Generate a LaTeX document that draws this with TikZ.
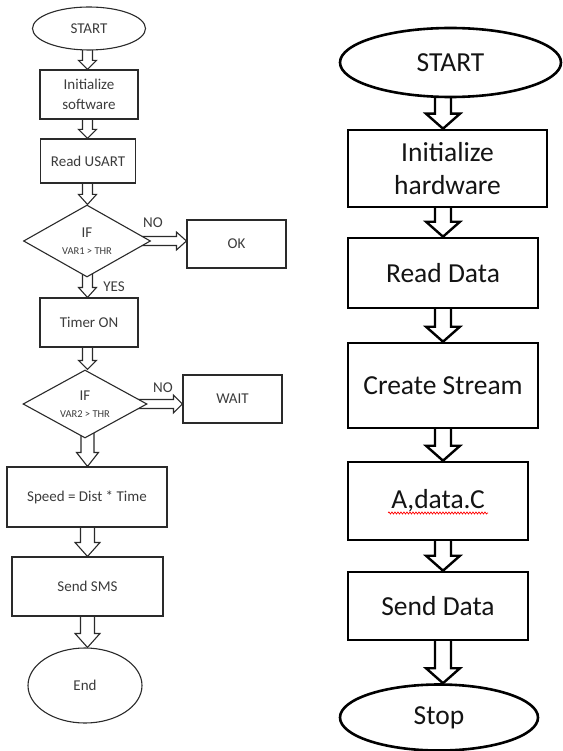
\documentclass[tikz,border=0pt]{standalone}
\usepackage{fontspec}
\setmainfont{Carlito}
\usetikzlibrary{shapes.geometric,calc,backgrounds,decorations.pathmorphing}
\definecolor{lline}{HTML}{2A2A2A}
\definecolor{ltext}{HTML}{3C3C3C}
\definecolor{rtext}{HTML}{141414}
\newcommand\lfont{\fontsize{15}{20}\selectfont}
\newcommand\lsmall{\fontsize{10.5}{12}\selectfont}
\newcommand\rfont{\fontsize{27.5}{33}\selectfont}
% vertical hollow block arrow: style, source, target, column, shaft half, head half, head length
\newcommand\varrow[7]{%
  \begin{pgfonlayer}{background}
  \path[#1] let \p1=(#2.south -| #4), \p2=(#3.north -| #4) in
    (\x1-#5pt,\y1+10pt) -- (\x1-#5pt,\y2+#7pt) -- (\x1-#6pt,\y2+#7pt) -- (\x1,\y2)
    -- (\x1+#6pt,\y2+#7pt) -- (\x1+#5pt,\y2+#7pt) -- (\x1+#5pt,\y1+10pt);
  \end{pgfonlayer}}
% horizontal hollow block arrow: style, source, target, shaft half, head half, head length
\newcommand\harrow[6]{%
  \begin{pgfonlayer}{background}
  \path[#1] let \p1=(#2.east), \p2=(#3.west) in
    (\x1-10pt,\y1+#4pt) -- (\x2-#6pt,\y1+#4pt) -- (\x2-#6pt,\y1+#5pt) -- (\x2,\y1)
    -- (\x2-#6pt,\y1-#5pt) -- (\x2-#6pt,\y1-#4pt) -- (\x1-10pt,\y1-#4pt);
  \end{pgfonlayer}}
\tikzset{
  lbox/.style={rectangle, draw=lline, line width=1.1pt, fill=white, inner sep=0pt,
    font=\lfont, text=ltext, align=center},
  lell/.style={lbox, ellipse},
  ldia/.style={lbox, diamond, aspect=1.75},
  lbl/.style={font=\lfont, text=ltext, inner sep=0pt},
  rbox/.style={rectangle, draw=black, line width=2.6pt, fill=white, inner sep=0pt,
    font=\rfont, text=rtext, align=center},
  rell/.style={rbox, ellipse},
  larrow/.style={draw=lline, line width=1.1pt, fill=white, line join=miter},
  rarrow/.style={draw=black, line width=2.4pt, fill=white, line join=miter},
}
\begin{document}
\begin{tikzpicture}[x=1pt,y=-1pt]
\useasboundingbox (0,0) rectangle (562,751);
\coordinate (colL) at (87.5,0);
\coordinate (colR) at (443,0);
% ---------- left chart ----------
\node[lell, minimum width=113pt, minimum height=43pt] (lstart) at (89,28.5) {START};
\node[lbox, minimum width=98pt, minimum height=49pt] (linit) at (89,94.5) {Initialize\\software};
\node[lbox, minimum width=95pt, minimum height=44pt] (lread) at (88,161) {Read USART};
\node[ldia, minimum width=127pt, minimum height=72pt] (if1) at (87,241) {IF\\[-3pt]{\lsmall VAR1 > THR}};
\node[lbox, minimum width=99pt, minimum height=48pt] (ok) at (236.5,244) {OK};
\node[lbox, minimum width=98pt, minimum height=49pt] (timer) at (89,322.5) {Timer ON};
\node[ldia, minimum width=124pt, minimum height=68pt] (if2) at (85,404) {IF\\[-3pt]{\lsmall VAR2 > THR}};
\node[lbox, minimum width=99pt, minimum height=48pt] (wait) at (232.5,399) {WAIT};
\node[lbox, minimum width=160pt, minimum height=60pt] (speed) at (87,497) {Speed = Dist * Time};
\node[lbox, minimum width=151pt, minimum height=59pt] (sms) at (87.5,586.5) {Send SMS};
\node[lell, minimum width=114pt, minimum height=75pt] (lend) at (85,685.5) {End};
\node[lbl] (no1) at (153,223) {NO};
\node[lbl] (no2) at (163,388) {NO};
\node[lbl] (yes) at (114,287) {YES};
\varrow{larrow}{lstart}{linit}{colL}{5}{9}{9}
\varrow{larrow}{linit}{lread}{colL}{5}{9}{9}
\varrow{larrow}{lread}{if1}{colL}{5}{9}{10}
\varrow{larrow}{if1}{timer}{colL}{5}{9}{10}
\varrow{larrow}{timer}{if2}{colL}{5}{9}{9}
\varrow{larrow}{if2}{speed}{colL}{6.5}{11}{14}
\varrow{larrow}{speed}{sms}{colL}{7}{12.5}{14}
\varrow{larrow}{sms}{lend}{colL}{7}{12.5}{14}
\harrow{larrow}{if1}{ok}{4.5}{9}{10}
\harrow{larrow}{if2}{wait}{4.5}{9}{9}
% ---------- right chart ----------
\node[rell, minimum width=221pt, minimum height=69pt] (rstart) at (450.5,62.5) {START};
\node[rbox, minimum width=199pt, minimum height=77pt] (rinit) at (447.5,168.5) {Initialize\\hardware};
\node[rbox, minimum width=190pt, minimum height=70pt] (rread) at (443,273) {Read Data};
\node[rbox, minimum width=190pt, minimum height=85pt] (rcreate) at (443,385.5) {Create Stream};
\node[rbox, minimum width=180pt, minimum height=78pt] (radata) at (438,501) {A,data.C};
\node[rbox, minimum width=180pt, minimum height=68pt] (rsend) at (438,606) {Send Data};
\node[rell, minimum width=198pt, minimum height=66pt] (rstop) at (439,717.5) {Stop};
\draw[red, line width=0.7pt, decorate, decoration={snake, amplitude=1pt, segment length=3pt}]
  ([xshift=-50pt,yshift=-12pt]radata.center) -- ([xshift=50pt,yshift=-12pt]radata.center);
\varrow{rarrow}{rstart}{rinit}{colR}{8}{17}{15}
\varrow{rarrow}{rinit}{rread}{colR}{8}{17}{15}
\varrow{rarrow}{rread}{rcreate}{colR}{8}{17}{15}
\varrow{rarrow}{rcreate}{radata}{colR}{8}{17}{15}
\varrow{rarrow}{radata}{rsend}{colR}{8}{17}{15}
\varrow{rarrow}{rsend}{rstop}{colR}{8}{17}{15}
\end{tikzpicture}
\end{document}
